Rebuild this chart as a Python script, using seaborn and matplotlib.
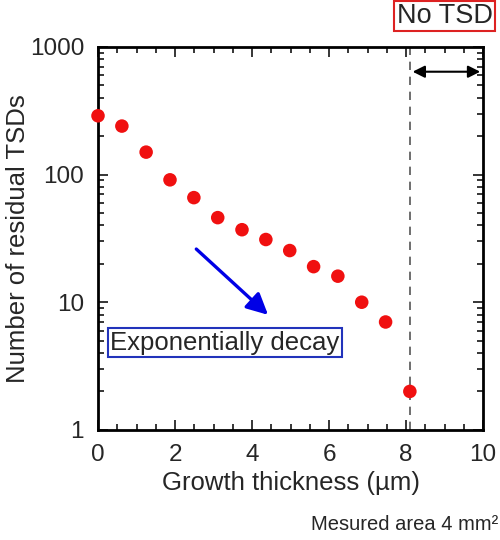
import numpy as np
import pandas as pd
import matplotlib
matplotlib.use('Agg')
import matplotlib.pyplot as plt
import seaborn as sns
from matplotlib.ticker import MultipleLocator, LogLocator, NullFormatter, FixedLocator, FixedFormatter

# Data
thickness = [0, 0.62, 1.25, 1.87, 2.49, 3.11, 3.74, 4.36, 4.98, 5.6, 6.23, 6.85, 7.47, 8.1]
tsd_count = [289, 240, 150, 91, 66, 46, 37, 31, 25.4, 19, 16, 10, 7, 2]
no_tsd_start = 8.1
x_max = 10

data = pd.DataFrame({'Growth thickness': thickness, 'Residual TSDs': tsd_count})

sns.set_style('ticks')
plt.rcParams['font.family'] = ['Liberation Sans', 'DejaVu Sans']

fig = plt.figure(figsize=(5, 5.4), dpi=100)
ax = fig.add_axes([0.196, 0.204, 0.77, 0.709])

sns.scatterplot(data=data, x='Growth thickness', y='Residual TSDs', color='#f01010',
                s=95, edgecolor='none', ax=ax, clip_on=False, zorder=5)

ax.set_yscale('log')
ax.set_xlim(0, x_max)
ax.set_ylim(1, 1000)

# dashed line and "No TSD" range
ax.axvline(no_tsd_start, color='#555555', lw=1.2, ls=(0, (5, 4)))
ax.annotate('', xy=(x_max, 640), xytext=(no_tsd_start, 640),
            arrowprops=dict(arrowstyle='<|-|>', color='black', lw=1.5, mutation_scale=18))

# decay arrow
ax.annotate('', xy=(4.47, 7.7), xytext=(2.5, 27),
            arrowprops=dict(arrowstyle='-|>', color='#0000e6', lw=2.4, mutation_scale=32))
ax.text(3.3, 4.8, 'Exponentially decay', fontsize=18.5, ha='center', va='center',
        bbox=dict(boxstyle='square,pad=0.1', fc='white', ec='#2233bb', lw=1.5))

ax.text(0.90, 1.081, 'No TSD', transform=ax.transAxes, fontsize=19.5, ha='center', va='center',
        bbox=dict(boxstyle='square,pad=0.08', fc='white', ec='#dd2222', lw=1.5))

ax.set_xlabel('Growth thickness (µm)', fontsize=18.5, labelpad=4)
ax.set_ylabel('Number of residual TSDs', fontsize=18.5, labelpad=0)

ax.xaxis.set_major_locator(MultipleLocator(2))
ax.xaxis.set_minor_locator(MultipleLocator(0.5))
ax.yaxis.set_major_locator(FixedLocator([1, 10, 100, 1000]))
ax.yaxis.set_major_formatter(FixedFormatter(['1', '10', '100', '1000']))
ax.yaxis.set_minor_locator(LogLocator(base=10, subs=np.arange(2, 10)))
ax.yaxis.set_minor_formatter(NullFormatter())

ax.tick_params(which='both', direction='in', top=True, right=True, labelsize=17.5, width=1.3)
ax.tick_params(which='major', length=7, pad=10)
ax.tick_params(which='minor', length=4)
for sp in ax.spines.values():
    sp.set_linewidth(2)
    sp.set_color('black')

fig.text(0.996, 0.029, 'Mesured area 4 mm²', fontsize=14.5, ha='right', va='center')

fig.savefig('out.png', dpi=100)
